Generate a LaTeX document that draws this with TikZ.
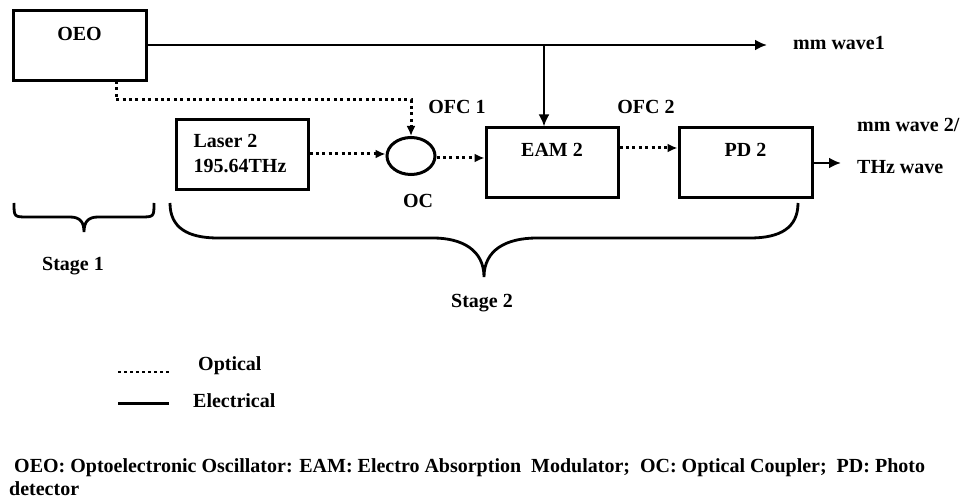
\documentclass[tikz,border=0pt]{standalone}
\usepackage{fontspec}
\setmainfont{Liberation Serif}
\usetikzlibrary{arrows.meta,shapes.geometric}
\begin{document}
\begin{tikzpicture}[x=1pt,y=-1pt,
  box/.style={draw,line width=3pt,minimum width=#1,inner sep=0pt,minimum height=70pt},
  box/.default=132pt,
  txt/.style={font=\fontsize{20}{24}\selectfont\bfseries,inner sep=0pt},
  elec/.style={line width=2.8pt},
  opt/.style={line width=3pt,dash pattern=on 3pt off 3.4pt},
  etip/.style={-{Latex[length=12pt,width=11pt]}},
  otip/.style={-{Latex[length=10pt,width=9pt]}}]
\useasboundingbox (0,0) rectangle (960,502);
% boxes
\node[box=133pt] (oeo) at (79.5,46) {};
\node[txt] (oeot) at (79.5,34) {OEO};
\node[box] (laser) at (242,155) {};
\node[txt,align=left] (lasert) at (240,154) {Laser 2\\[1pt]195.64THz};
\node[draw,ellipse,line width=3pt,minimum width=48pt,minimum height=37pt,inner sep=0pt] (oc) at (411,156) {};
\node[txt] (oct) at (418,201) {OC};
\node[box] (eam) at (552,163) {};
\node[txt] (eamt) at (552,150) {EAM 2};
\node[box=133pt] (pd) at (745.5,163) {};
\node[txt] (pdt) at (745.5,150) {PD 2};
% labels
\node[txt,anchor=west] (mm1) at (793,43) {mm wave1};
\node[txt] (ofc1) at (457,107) {OFC 1};
\node[txt] (ofc2) at (646,107) {OFC 2};
\node[txt,anchor=west] (mm2) at (857,125) {mm wave 2/};
\node[txt,anchor=west] (thz) at (857,167) {THz wave};
% coordinates
\coordinate (mm1end) at (767,45);
\coordinate (branch) at (544,45);
\coordinate (oeodot) at (116,81);
\coordinate (pdout) at (841,163);
% connectors
\draw[elec,etip] (oeo.east |- mm1end) -- (mm1end);
\draw[elec,etip] (branch) -- (branch |- eam.north);
\draw[opt,otip] (oeodot) -- (116,100) -- (oc.north |- 0,100) -- (oc.north);
\draw[opt,otip] (laser.east |- 0,154) -- (oc.west |- 0,154);
\draw[opt,otip] (oc.east |- 0,158) -- (eam.west |- 0,158);
\draw[opt,otip] (eam.east |- 0,148) -- (pd.west |- 0,148);
\draw[elec,etip] (pd.east |- pdout) -- (pdout);
% braces
\draw[line width=2.8pt] (14,203) .. controls (14,217) and (14,217) .. (28,217) -- (70,217)
  .. controls (80,217) and (84,222) .. (84,232)
  .. controls (84,222) and (88,217) .. (98,217) -- (140,217)
  .. controls (154,217) and (154,217) .. (154,203);
\draw[line width=2.8pt] (170,203) .. controls (170,228) and (188,238) .. (218,238) -- (433,238)
  .. controls (462,238) and (484,250) .. (484,277)
  .. controls (484,250) and (506,238) .. (537,238) -- (750,238)
  .. controls (780,238) and (798,228) .. (798,203);
\node[txt] (st1) at (73,266) {Stage 1};
\node[txt] (st2) at (482,303) {Stage 2};
% legend
\coordinate (lo1) at (118,372);
\coordinate (lo2) at (169,372);
\coordinate (le1) at (118,403);
\coordinate (le2) at (169,403);
\draw[line width=2.8pt,dash pattern=on 2.8pt off 3.2pt] (lo1) -- (lo2);
\draw[line width=3pt] (le1) -- (le2);
\node[txt,anchor=west] (optl) at (198,366) {Optical};
\node[txt,anchor=west] (elel) at (193,401) {Electrical};
% footnote
\node[txt,anchor=north west,align=left,font=\fontsize{20}{23}\selectfont\bfseries] (foot) at (9,458)
  {\ OEO: Optoelectronic Oscillator: EAM: Electro Absorption\ \ Modulator;\ \ OC: Optical Coupler;\ \ PD: Photo\\ detector};
\end{tikzpicture}
\end{document}
